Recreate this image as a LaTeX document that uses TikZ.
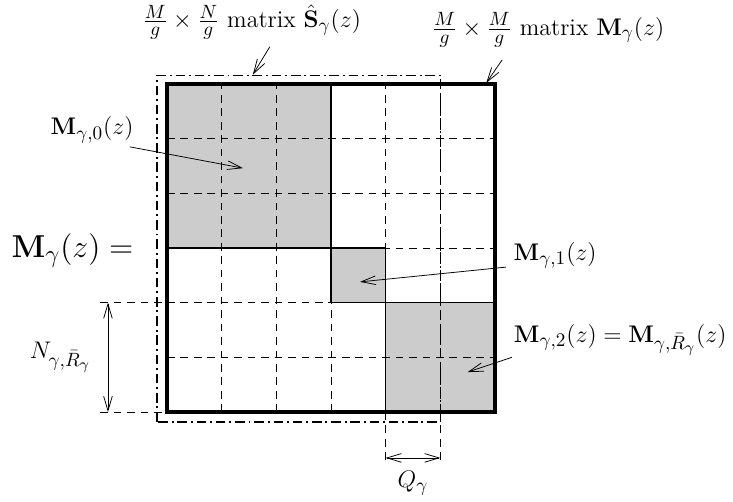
\documentclass[tikz,border=0pt]{standalone}
\usepackage{fix-cm}
\usepackage{amsmath}
\usepackage{amssymb}
\usetikzlibrary{arrows.meta}
\DeclareMathSizes{12.5}{12.5}{10}{8}
\DeclareMathSizes{16.5}{16.5}{13}{10}
\tikzset{
  blk/.style={fill=black!20, draw=none},
  gridline/.style={dashed, dash pattern=on 4pt off 3pt, line width=0.4pt},
  bound/.style={line width=0.8pt},
  outer/.style={line width=1.6pt},
  subm/.style={dash pattern=on 5pt off 2pt on 1pt off 2pt, line width=0.7pt},
  lbl/.style={inner sep=1pt, font=\fontsize{12.5}{15}\selectfont},
  ptr/.style={->, line width=0.4pt, >={Straight Barb[length=7.5pt, width=4.5pt]}}
}
\begin{document}
\begin{tikzpicture}
            \useasboundingbox (-3.055,-1.646) rectangle (10.353,7.536);

            \fill[blk] (0,3) rectangle (3,6);
            \fill[blk] (3,2) rectangle (4,3);
            \fill[blk] (4,0) rectangle (6,2);

            \foreach \i in {1,...,5} {
                \draw[gridline] (\i,0) -- (\i,6);
                \draw[gridline] (0,\i) -- (6,\i);
            }
            \draw[gridline] (-1.22,2) -- (0,2);
            \draw[gridline] (-1.22,0) -- (0,0);
            \draw[gridline] (4,0) -- (4,-0.97);
            \draw[gridline] (5,0) -- (5,-0.97);

            \draw[bound] (0,3) rectangle (3,6);
            \draw[bound] (3,2) rectangle (4,3);
            \draw[bound] (4,0) rectangle (6,2);
            \draw[outer] (0,0) rectangle (6,6);
            \draw[subm] (-0.18,-0.18) rectangle (5,6.16);

            \node[lbl, font=\fontsize{16.5}{20}\selectfont] (lhs) at (-1.73,2.95) {$\mathbf{M}_\gamma(z) =$};
            \node[lbl] (shat) at (1.55,7.13) {$\frac{M}{g}\times\frac{N}{g}$ matrix $\hat{\mathbf{S}}_\gamma(z)$};
            \node[lbl] (mfull) at (6.97,6.99) {$\frac{M}{g}\times\frac{M}{g}$ matrix $\mathbf{M}_\gamma(z)$};
            \node[lbl] (m0) at (-1.37,5.16) {$\mathbf{M}_{\gamma,0}(z)$};
            \node[lbl] (m1) at (7.10,2.87) {$\mathbf{M}_{\gamma,1}(z)$};
            \node[lbl] (m2) at (8.29,1.32) {$\mathbf{M}_{\gamma,2}(z) = \mathbf{M}_{\gamma,\bar{R}_\gamma}(z)$};
            \node[lbl] (nlen) at (-1.95,1.0) {$N_{\gamma,\bar{R}_\gamma}$};
            \node[lbl] (qlen) at (4.5,-1.3) {$Q_\gamma$};

            \coordinate (shatA) at (1.88,6.68);
            \coordinate (shatB) at (1.57,6.17);
            \coordinate (mfullA) at (6.13,6.44);
            \coordinate (mfullB) at (5.84,6.02);
            \coordinate (m0A) at (-0.68,4.85);
            \coordinate (m0B) at (1.39,4.46);
            \coordinate (m1A) at (6.2,2.65);
            \coordinate (m1B) at (3.53,2.38);
            \coordinate (m2A) at (6.31,1.0);
            \coordinate (m2B) at (5.5,0.73);
            \coordinate (ntop) at (-1.08,2);
            \coordinate (nbot) at (-1.08,0);
            \coordinate (qleft) at (4,-0.84);
            \coordinate (qright) at (5,-0.84);

            \draw[ptr] (shatA) -- (shatB);
            \draw[ptr] (mfullA) -- (mfullB);
            \draw[ptr] (m0A) -- (m0B);
            \draw[ptr] (m1A) -- (m1B);
            \draw[ptr] (m2A) -- (m2B);
            \draw[ptr, <->] (ntop) -- (nbot);
            \draw[ptr, <->] (qleft) -- (qright);
        \end{tikzpicture}
\end{document}
